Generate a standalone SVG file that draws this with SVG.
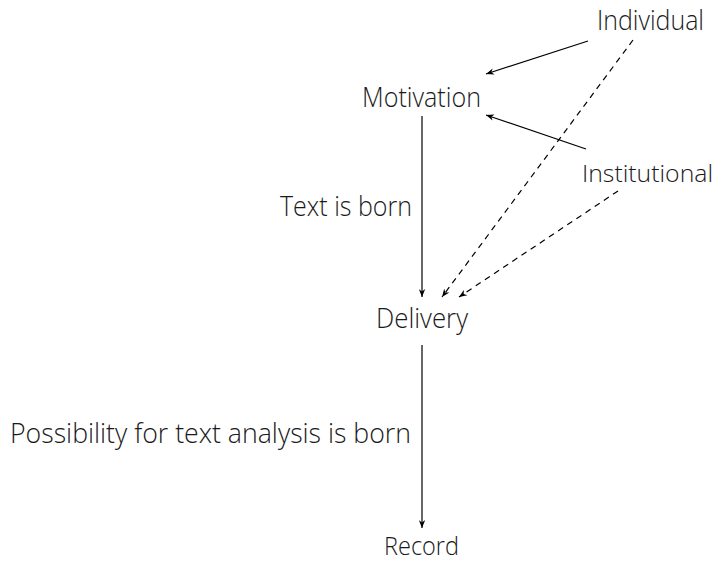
<svg xmlns="http://www.w3.org/2000/svg" width="719" height="562" viewBox="0 0 719 562">
<style>
text{font-family:"Open Sans","Noto Sans",sans-serif;font-size:27px;fill:#1a1a1a;font-weight:300}
.c{fill:none;stroke:#000;stroke-width:1.2}
.d{stroke-dasharray:6,5}
</style>
<defs>
<marker id="ah" viewBox="0 0 10 8" refX="10" refY="4" markerWidth="8" markerHeight="7" markerUnits="userSpaceOnUse" orient="auto">
<path d="M0,0 L10,4 L0,8 L3,4 z" fill="#000"/>
</marker>
</defs>
<rect width="719" height="562" fill="#fff"/>
<g id="connectors">
<line class="c" x1="588" y1="41" x2="486" y2="74" marker-end="url(#ah)"/>
<line class="c" x1="586" y1="149" x2="486" y2="115" marker-end="url(#ah)"/>
<line class="c" x1="422" y1="116" x2="422" y2="297" marker-end="url(#ah)"/>
<line class="c d" x1="633" y1="40" x2="442" y2="297" marker-end="url(#ah)"/>
<line class="c d" x1="618" y1="191" x2="459" y2="297" marker-end="url(#ah)"/>
<line class="c" x1="422" y1="345" x2="422" y2="528" marker-end="url(#ah)"/>
</g>
<g id="labels">
<text x="280" y="216" textLength="132" lengthAdjust="spacingAndGlyphs">Text is born</text>
<text x="10" y="443" textLength="401" lengthAdjust="spacingAndGlyphs">Possibility for text analysis is born</text>
</g>
<g id="individual"><text x="597" y="30" textLength="107" lengthAdjust="spacingAndGlyphs">Individual</text></g>
<g id="motivation"><text x="362" y="107" textLength="119" lengthAdjust="spacingAndGlyphs">Motivation</text></g>
<g id="institutional"><text x="582" y="182" style="font-size:24px" textLength="131" lengthAdjust="spacingAndGlyphs">Institutional</text></g>
<g id="delivery"><text x="376" y="328" textLength="92" lengthAdjust="spacingAndGlyphs">Delivery</text></g>
<g id="record"><text x="384" y="555" style="font-size:25px" textLength="75" lengthAdjust="spacingAndGlyphs">Record</text></g>
</svg>
